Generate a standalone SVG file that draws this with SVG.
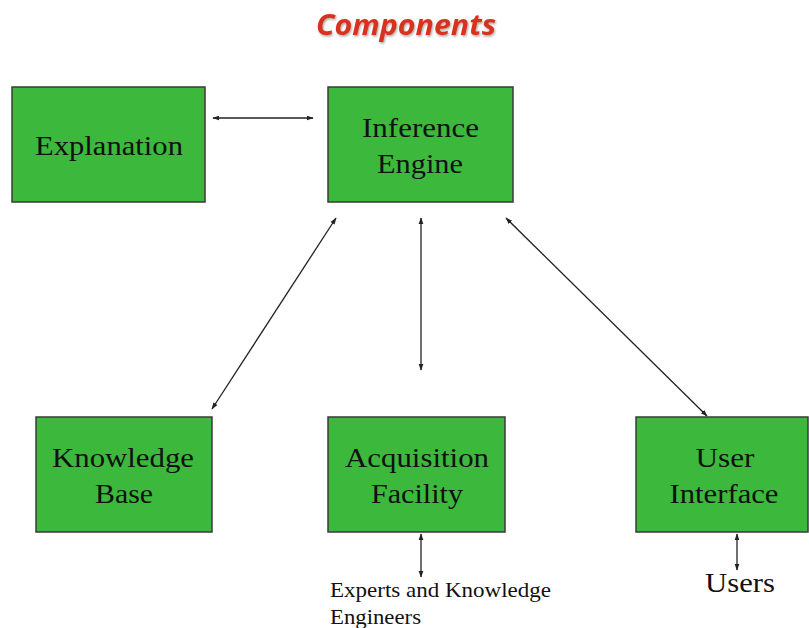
<svg xmlns="http://www.w3.org/2000/svg" width="809" height="628" viewBox="0 0 809 628">
<style>
.box{fill:#3cb83c;stroke:#3a3a3a;stroke-width:1.5}
.lbl{font-family:"Liberation Serif",serif;font-size:28px;fill:#111;text-anchor:middle}
.small{font-family:"Liberation Serif",serif;font-size:21px;fill:#111}
.con{stroke:#222;stroke-width:1.3;fill:none;marker-start:url(#ah);marker-end:url(#ah)}
</style>
<defs>
<marker id="ah" viewBox="0 0 10 10" refX="9" refY="5" markerWidth="7" markerHeight="7" orient="auto-start-reverse" markerUnits="userSpaceOnUse"><path d="M0,1.5 L10,5 L0,8.5 z" fill="#222"/></marker>
<filter id="sh" x="-10%" y="-20%" width="130%" height="150%"><feDropShadow dx="1" dy="1.5" stdDeviation="1" flood-color="#000" flood-opacity="0.35"/></filter>
</defs>
<rect width="809" height="628" fill="#fff"/>
<text x="406" y="35" font-family="'Open Sans','Liberation Sans',sans-serif" font-size="29" font-weight="bold" font-style="italic" fill="#d9331c" text-anchor="middle" filter="url(#sh)" textLength="180" lengthAdjust="spacingAndGlyphs">Components</text>
<g id="explanation"><rect class="box" x="12" y="87" width="193" height="115"/><text class="lbl" x="109" y="155" textLength="148" lengthAdjust="spacingAndGlyphs">Explanation</text></g>
<g id="inference-engine"><rect class="box" x="328" y="87" width="185" height="115"/><text class="lbl" x="420.5" y="137" textLength="117" lengthAdjust="spacingAndGlyphs">Inference</text><text class="lbl" x="420" y="173" textLength="86" lengthAdjust="spacingAndGlyphs">Engine</text></g>
<g id="knowledge-base"><rect class="box" x="36" y="417" width="176" height="115"/><text class="lbl" x="123" y="467" textLength="142" lengthAdjust="spacingAndGlyphs">Knowledge</text><text class="lbl" x="124" y="503" textLength="58" lengthAdjust="spacingAndGlyphs">Base</text></g>
<g id="acquisition-facility"><rect class="box" x="328" y="417" width="177" height="115"/><text class="lbl" x="417" y="467" textLength="144" lengthAdjust="spacingAndGlyphs">Acquisition</text><text class="lbl" x="417" y="503" textLength="92" lengthAdjust="spacingAndGlyphs">Facility</text></g>
<g id="user-interface"><rect class="box" x="636" y="417" width="172" height="115"/><text class="lbl" x="725" y="467" textLength="59" lengthAdjust="spacingAndGlyphs">User</text><text class="lbl" x="724" y="503" textLength="109" lengthAdjust="spacingAndGlyphs">Interface</text></g>
<g id="experts"><text class="small" x="330" y="597" textLength="221" lengthAdjust="spacingAndGlyphs">Experts and Knowledge</text><text class="small" x="330" y="624" textLength="91" lengthAdjust="spacingAndGlyphs">Engineers</text></g>
<g id="users"><text class="lbl" x="740" y="592" textLength="70" lengthAdjust="spacingAndGlyphs">Users</text></g>
<g id="connectors">
<line class="con" x1="213" y1="118" x2="313" y2="118"/>
<line class="con" x1="336" y1="218" x2="212" y2="409"/>
<line class="con" x1="421" y1="218" x2="421" y2="370"/>
<line class="con" x1="506" y1="218" x2="707" y2="416"/>
<line class="con" x1="421" y1="534" x2="421" y2="577"/>
<line class="con" x1="737" y1="534" x2="737" y2="570"/>
</g>
</svg>
